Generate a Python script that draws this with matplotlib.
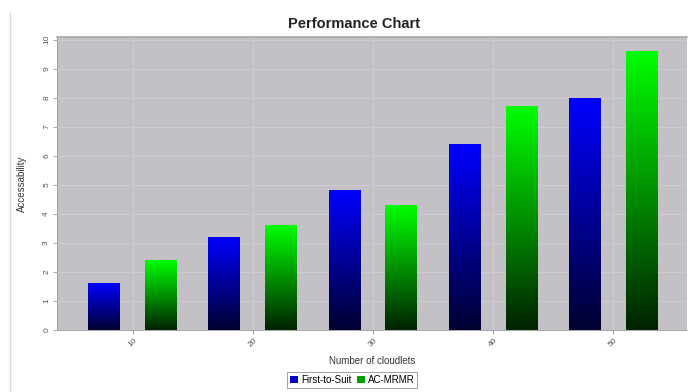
import numpy as np
import matplotlib
matplotlib.use("Agg")
import matplotlib.pyplot as plt
from matplotlib.colors import LinearSegmentedColormap
from matplotlib.lines import Line2D
from matplotlib.patches import Patch

plt.rcParams["font.family"] = ["Liberation Sans", "DejaVu Sans"]

categories = ["10", "20", "30", "40", "50"]
first_to_suit = [1.6, 3.2, 4.8, 6.4, 8.0]
ac_mrmr = [2.4, 3.6, 4.3, 7.7, 9.6]
y_ticks = list(range(0, 11))

fig = plt.figure(figsize=(6.88, 3.92), dpi=100)
ax = fig.add_axes([0.083, 0.1594, 0.9155, 0.7454])
ax.set_facecolor("#c3c1c6")

blue_cmap = LinearSegmentedColormap.from_list("blue_grad", ["#000030", "#0000ff"])
green_cmap = LinearSegmentedColormap.from_list("green_grad", ["#002200", "#00ff00"])
ramp = np.linspace(0, 1, 256).reshape(-1, 1)

x = np.arange(len(categories))
width = 0.266
offset = 0.237


def gradient_bars(xs, values, cmap):
    for xc, v in zip(xs, values):
        ax.imshow(ramp, cmap=cmap, origin="lower", aspect="auto",
                  extent=[xc - width / 2, xc + width / 2, 0, v], zorder=3)


gradient_bars(x - offset, first_to_suit, blue_cmap)
gradient_bars(x + offset, ac_mrmr, green_cmap)

ax.set_xlim(-0.628, 4.612)
ax.set_ylim(0, 10.08)

# faint grid: category centres and value ticks
for xc in x:
    ax.axvline(xc, color="#cdcbd1", lw=0.8, zorder=1)
for yt in y_ticks:
    ax.axhline(yt, color="#cdcbd1", lw=0.8, zorder=1)

ax.set_xticks(x)
ax.set_xticklabels(categories, rotation=45, fontsize=6, color="#555555")
ax.set_yticks(y_ticks)
ax.set_yticklabels([str(t) for t in y_ticks], rotation=90, fontsize=6,
                   color="#555555", va="center")
ax.tick_params(axis="both", length=3, width=0.6, color="#999999", pad=2)

ax.spines["right"].set_visible(False)
ax.spines["top"].set_color("#a8a8a8")
ax.spines["top"].set_linewidth(1.2)
for side in ["left", "bottom"]:
    ax.spines[side].set_color("#9a9a9a")
    ax.spines[side].set_linewidth(0.6)

ax.set_xlabel("Number of cloudlets", fontsize=7, color="#333333", labelpad=6)
ax.set_ylabel("Accessability", fontsize=7, color="#333333", labelpad=12)

fig.text(0.515, 0.938, "Performance Chart", ha="center", va="center",
         fontsize=10.5, fontweight="bold", color="#222222")

handles = [Patch(facecolor="#0000c8", edgecolor="none", label="First-to-Suit"),
           Patch(facecolor="#00a000", edgecolor="none", label="AC-MRMR")]
leg = fig.legend(handles=handles, loc="center", bbox_to_anchor=(0.512, 0.031),
                 ncol=2, fontsize=7, frameon=True, fancybox=False,
                 handlelength=0.8, handleheight=0.8, handletextpad=0.3,
                 columnspacing=0.6, borderpad=0.3, borderaxespad=0)
leg.get_frame().set_edgecolor("#777777")
leg.get_frame().set_linewidth(0.6)

# thin panel border down the left edge
fig.add_artist(Line2D([9.5 / 688, 9.5 / 688], [0, 1 - 13 / 392],
                      transform=fig.transFigure, color="#d8d8d8", lw=1))

fig.savefig("out.png", dpi=100)
